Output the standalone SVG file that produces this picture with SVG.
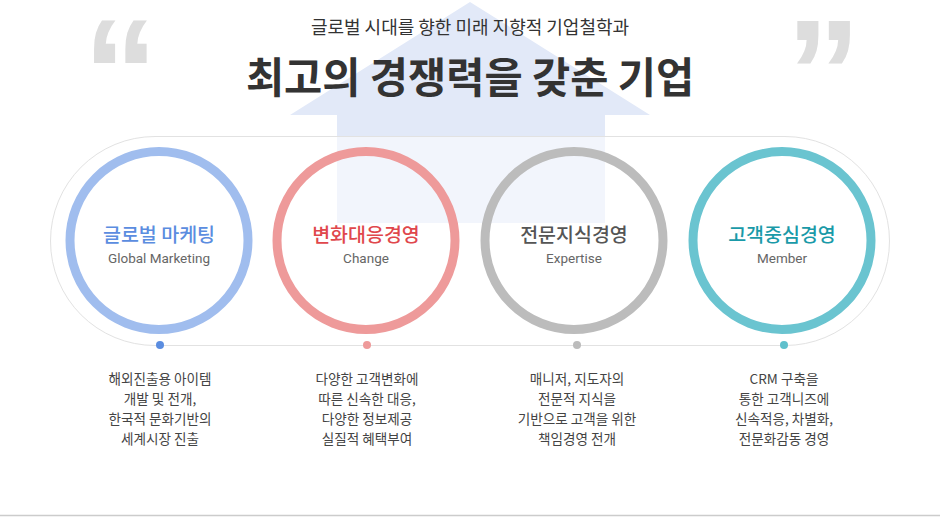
<svg xmlns="http://www.w3.org/2000/svg" width="940" height="517" viewBox="0 0 940 517">
<style>
.kr{font-family:"Noto Sans CJK KR","Noto Sans",sans-serif}
.en{font-family:Roboto,"Liberation Sans",sans-serif;font-size:13.5px;font-weight:400;fill:#666666;text-anchor:middle}
.ttl{font-family:"Noto Sans CJK KR",sans-serif;font-size:19.5px;font-weight:500;text-anchor:middle}
.desc{font-family:"Noto Sans CJK KR",sans-serif;font-size:13.6px;fill:#444;text-anchor:middle}
.ring{fill:none;stroke-width:9}
.q{font-family:"Liberation Sans",Arial,sans-serif;font-weight:700;font-size:150px;fill:#dddddd}
</style>
<rect width="940" height="517" fill="#ffffff"/>
<g id="arrow">
<polygon points="470,2 650,115 605,115 605,223 337,223 337,115 290,115" fill="#e2e9f8"/>
</g>
<g id="quotes">
<text class="q" x="83" y="124">“</text>
<text class="q" x="786" y="124">”</text>
</g>
<g id="header">
<text class="kr" x="470" y="34" font-size="18" fill="#333" text-anchor="middle">글로벌 시대를 향한 미래 지향적 기업철학과</text>
<text class="kr" x="470" y="93" font-size="41.5" font-weight="700" fill="#333" text-anchor="middle">최고의 경쟁력을 갖춘 기업</text>
</g>
<g id="connectors">
<rect x="50.5" y="136.5" width="839" height="209" rx="104.5" fill="#ffffff" fill-opacity="0.55" stroke="#e2e2e2" stroke-width="1"/>
</g>
<g id="node1">
<circle class="ring" cx="159" cy="240.5" r="89" stroke="#a0bdee"/>
<text class="ttl" x="159" y="242" fill="#5b8de0">글로벌 마케팅</text>
<text class="en" x="159" y="263">Global Marketing</text>
<circle cx="160" cy="345" r="4" fill="#5b8de0"/>
<text class="desc" x="160" y="384">해외진출용 아이템</text>
<text class="desc" x="160" y="404">개발 및 전개,</text>
<text class="desc" x="160" y="424">한국적 문화기반의</text>
<text class="desc" x="160" y="444">세계시장 진출</text>
</g>
<g id="node2">
<circle class="ring" cx="366" cy="240.5" r="89" stroke="#ee9a9a"/>
<text class="ttl" x="366" y="242" fill="#e0474c">변화대응경영</text>
<text class="en" x="366" y="263">Change</text>
<circle cx="367" cy="345" r="4" fill="#ee9a9a"/>
<text class="desc" x="367" y="384">다양한 고객변화에</text>
<text class="desc" x="367" y="404">따른 신속한 대응,</text>
<text class="desc" x="367" y="424">다양한 정보제공</text>
<text class="desc" x="367" y="444">실질적 혜택부여</text>
</g>
<g id="node3">
<circle class="ring" cx="574" cy="240.5" r="89" stroke="#bcbcbc"/>
<text class="ttl" x="574" y="242" fill="#555555">전문지식경영</text>
<text class="en" x="574" y="263">Expertise</text>
<circle cx="577" cy="345" r="4" fill="#bcbcbc"/>
<text class="desc" x="577" y="384">매니저, 지도자의</text>
<text class="desc" x="577" y="404">전문적 지식을</text>
<text class="desc" x="577" y="424">기반으로 고객을 위한</text>
<text class="desc" x="577" y="444">책임경영 전개</text>
</g>
<g id="node4">
<circle class="ring" cx="782" cy="240.5" r="89" stroke="#6ac4d0"/>
<text class="ttl" x="782" y="242" fill="#1a9aa8">고객중심경영</text>
<text class="en" x="782" y="263">Member</text>
<circle cx="784" cy="345" r="4" fill="#5fc0cc"/>
<text class="desc" x="784" y="384">CRM 구축을</text>
<text class="desc" x="784" y="404">통한 고객니즈에</text>
<text class="desc" x="784" y="424">신속적응, 차별화,</text>
<text class="desc" x="784" y="444">전문화감동 경영</text>
</g>
<line x1="0" y1="515.5" x2="940" y2="515.5" stroke="#cccccc" stroke-width="1.5"/>
</svg>
